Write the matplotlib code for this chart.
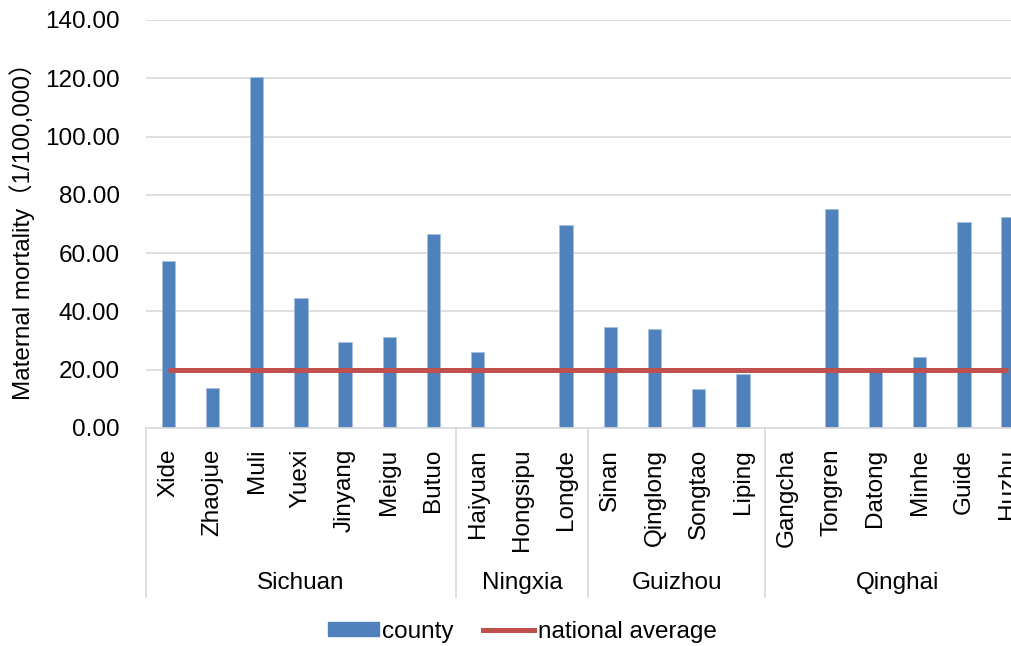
import matplotlib
matplotlib.use("Agg")
import matplotlib.pyplot as plt
from matplotlib.patches import Patch
from matplotlib.lines import Line2D
from matplotlib.ticker import FormatStrFormatter, MultipleLocator
import matplotlib.transforms as mtransforms

plt.rcParams['font.family'] = ['Liberation Sans', 'Noto Sans CJK SC', 'DejaVu Sans']

# County names grouped by province
provinces = ["Sichuan", "Ningxia", "Guizhou", "Qinghai"]
province_sizes = [7, 3, 4, 6]
counties = ["Xide", "Zhaojue", "Muli", "Yuexi", "Jinyang", "Meigu", "Butuo",
            "Haiyuan", "Hongsipu", "Longde",
            "Sinan", "Qinglong", "Songtao", "Liping",
            "Gangcha", "Tongren", "Datong", "Minhe", "Guide", "Huzhu"]
# Maternal mortality per 100,000
county_rates = [57.3, 13.7, 120.4, 44.6, 29.5, 31.2, 66.6,
                26.1, 0.0, 69.7,
                34.7, 34.0, 13.4, 18.5,
                0.0, 75.0, 19.4, 24.3, 70.6, 72.3]
national_average = 20.0

BLUE = "#4F81BD"
RED = "#C0504D"
GRID = "#D9D9D9"
FS = 17.5

fig = plt.figure(figsize=(10.11, 6.46), dpi=100)
ax = fig.add_axes([0.1446, 1 - 428 / 646, 884 / 1011, 408 / 646])

x = list(range(len(counties)))
ax.bar(x, county_rates, width=0.3, color=BLUE, edgecolor="#A7BFDE",
       linewidth=0.6, zorder=2)
ax.plot(x, [national_average] * len(x), color=RED, linewidth=3.6,
        solid_capstyle="butt", zorder=3)

ax.set_xlim(-0.5, len(counties) - 0.5)
ax.set_ylim(0, 140)
ax.yaxis.set_major_locator(MultipleLocator(20))
ax.yaxis.set_major_formatter(FormatStrFormatter("%.2f"))
ax.grid(axis="y", color=GRID, linewidth=1.2, zorder=0)
ax.set_axisbelow(True)

for side in ("left", "right", "top"):
    ax.spines[side].set_visible(False)
ax.spines["bottom"].set_color(GRID)
ax.spines["bottom"].set_linewidth(1.2)
ax.spines["bottom"].set_zorder(4)

ax.set_xticks(x)
ax.set_xticklabels(counties, rotation=90, va="top", ha="center", fontsize=FS)
ax.tick_params(axis="x", length=0, pad=15)
ax.tick_params(axis="y", length=0, pad=19, labelsize=FS)

# Province separators and labels below the county names
trans = mtransforms.blended_transform_factory(ax.transData, ax.transAxes)
start = -0.5
bounds = [start]
for name, size in zip(provinces, province_sizes):
    end = start + size
    ax.text((start + end) / 2, -0.38, name, transform=trans, ha="center",
            va="center", fontsize=FS)
    bounds.append(end)
    start = end
for b in bounds:
    ax.plot([b, b], [0, -0.414], transform=trans, color=GRID, linewidth=1.2,
            clip_on=False)

fig.text(22 / 1011, 1 - 225 / 646, "Maternal mortality（1/100,000）",
         rotation=90, ha="center", va="center", fontsize=FS)

handles = [Patch(facecolor=BLUE, edgecolor=BLUE),
           Line2D([0], [0], color=RED, linewidth=3.6)]
fig.legend(handles, ["county", "national average"], ncol=2, loc="center",
           bbox_to_anchor=(522 / 1011, 1 - 632 / 646), frameon=False,
           fontsize=FS, handlelength=2.1, handleheight=0.5,
           handletextpad=0.15, columnspacing=1.2)

fig.savefig("out.png", dpi=100)
